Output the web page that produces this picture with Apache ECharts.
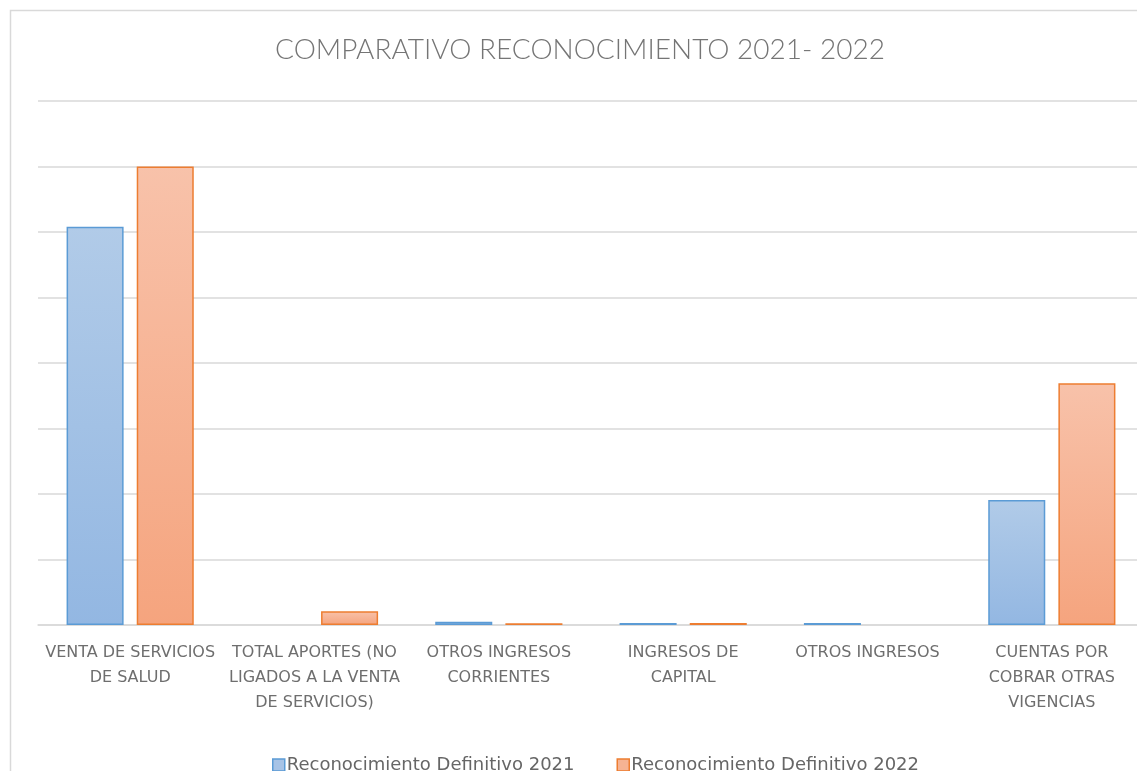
<!DOCTYPE html>
<html>
<head>
<meta charset="utf-8">
<script src="https://cdn.jsdelivr.net/npm/echarts@6/dist/echarts.min.js"></script>
<style>
  html, body { margin: 0; padding: 0; background: #fff; overflow: hidden; }
  /* the original chart is wider than the captured window, so it gets cut on the right */
  #chart { width: 1160px; height: 771px; }
</style>
</head>
<body>
<div id="chart"></div>
<script>
// categories (line breaks as in the original labels)
const categories = [
    'VENTA DE SERVICIOS\nDE SALUD',
    'TOTAL APORTES (NO\nLIGADOS A LA VENTA\nDE SERVICIOS)',
    'OTROS INGRESOS\nCORRIENTES',
    'INGRESOS DE\nCAPITAL',
    'OTROS INGRESOS',
    'CUENTAS POR\nCOBRAR OTRAS\nVIGENCIAS'
];
const seriesNames = ['Reconocimiento Definitivo 2021', 'Reconocimiento Definitivo 2022'];
// values (relative units, no y labels shown)
const values2021 = [6.08, 0, 0.05, 0.03, 0.03, 1.91];
const values2022 = [7.0, 0.21, 0.025, 0.03, 0, 3.69];

const chart = echarts.init(document.getElementById('chart'));

function grad(top, bottom) {
    return new echarts.graphic.LinearGradient(0, 0, 0, 1, [
        { offset: 0, color: top },
        { offset: 1, color: bottom }
    ]);
}

const styles = [
    { fill: grad('#b1cbe8', '#93b7e2'), border: '#5b9bd5', icon: '#a7c3e6' },
    { fill: grad('#f8c2aa', '#f5a47e'), border: '#ed7d31', icon: '#f6b393' }
];

const option = {
    animation: false,
    textStyle: { fontFamily: 'DejaVu Sans' },
    title: {
        text: 'COMPARATIVO RECONOCIMIENTO 2021- 2022',
        left: 'center',
        top: 31,
        textStyle: {
            fontFamily: 'Lato',
            fontWeight: 300,
            fontSize: 28,
            color: '#757575'
        }
    },
    graphic: [{
        type: 'rect',
        shape: { x: 10.5, y: 10.5, width: 1200, height: 900 },
        style: { fill: 'none', stroke: '#d9d9d9', lineWidth: 1.5 },
        silent: true
    }],
    legend: {
        top: 751,
        left: 267,
        itemWidth: 12,
        itemHeight: 12,
        itemGap: 42,
        icon: 'rect',
        textStyle: { fontSize: 18, color: '#666', fontFamily: 'DejaVu Sans', padding: [0, 0, 0, -3] },
        data: seriesNames.map((n, i) => ({
            name: n,
            itemStyle: { color: styles[i].icon, borderColor: styles[i].border, borderWidth: 1.5 }
        }))
    },
    grid: {
        left: 38,
        top: 101,
        width: 1106,
        height: 524,
        containLabel: false
    },
    xAxis: {
        type: 'category',
        data: categories,
        axisTick: { show: false },
        axisLine: { lineStyle: { color: '#d9d9d9', width: 1.5 } },
        axisLabel: {
            interval: 0,
            color: '#6e6e6e',
            fontSize: 16,
            lineHeight: 25,
            margin: 15,
            fontFamily: 'DejaVu Sans'
        }
    },
    yAxis: {
        type: 'value',
        min: 0,
        max: 8,
        interval: 1,
        axisLabel: { show: false },
        axisTick: { show: false },
        axisLine: { show: false },
        splitLine: { lineStyle: { color: '#d9d9d9', width: 1.5 } }
    },
    series: [values2021, values2022].map((vals, i) => ({
        name: seriesNames[i],
        type: 'bar',
        // zero values draw no bar at all
        data: vals.map((v) => (v === 0 ? '-' : v)),
        barGap: '23%',
        barCategoryGap: '31%',
        itemStyle: {
            color: styles[i].fill,
            borderColor: styles[i].border,
            borderWidth: 1.5
        }
    }))
};

chart.setOption(option);
</script>
</body>
</html>
